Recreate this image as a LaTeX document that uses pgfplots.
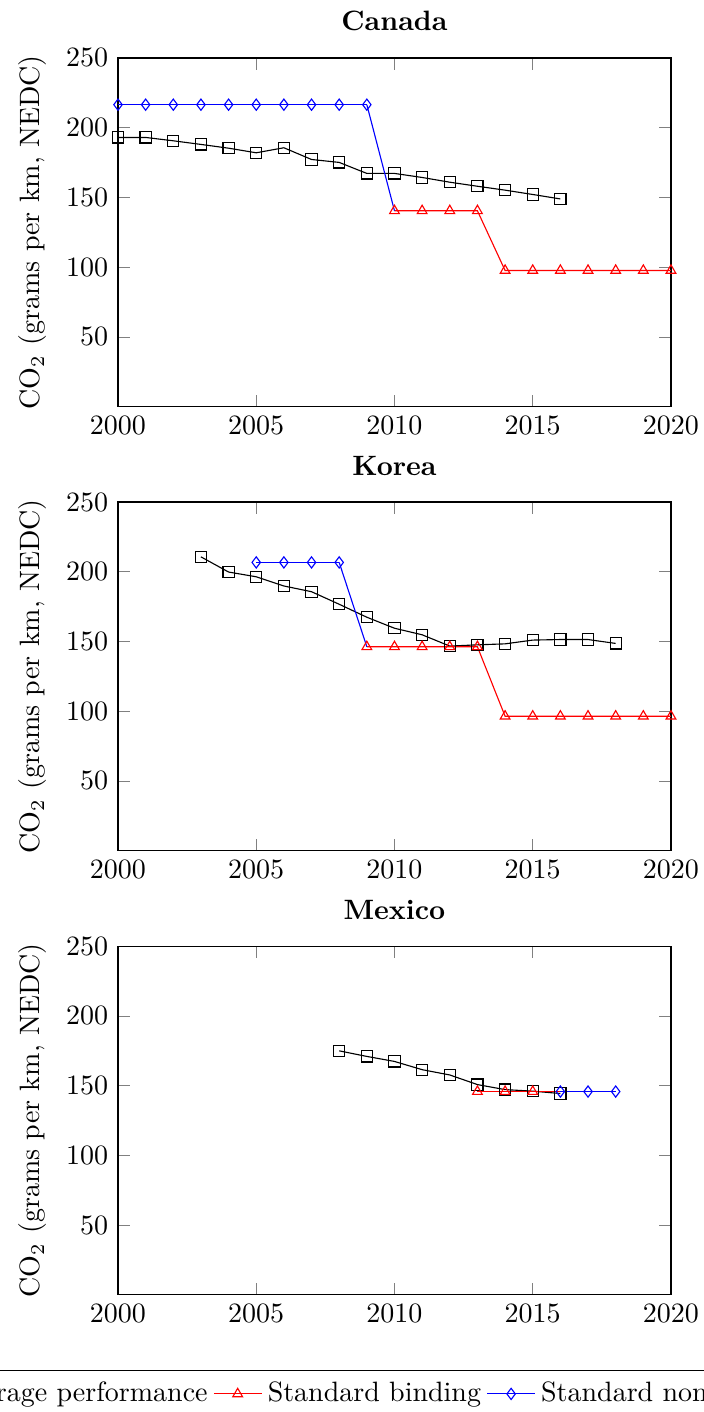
\documentclass[border=0pt]{standalone}
\usepackage{pgfplots}
\pgfplotsset{compat=1.18}
\begin{document}
\begin{tikzpicture}
\pgfplotsset{co2/.style={
  scale only axis, width=197.5pt, height=124.5pt,
  xmin=2000, xmax=2020, ymin=0, ymax=250,
  xtick={2000,2005,2010,2015,2020}, ytick={50,100,150,200,250},
  /pgf/number format/1000 sep={},
  ylabel={CO$_2$ (grams per km, NEDC)},
  title style={font=\bfseries},
  anchor=north west,
}}
\begin{axis}[co2, at={(42.14pt,-20.7pt)}, title={Canada}]
\addplot[black, mark=square] coordinates {
(2000,193.0)(2001,193.0)(2002,190.6)(2003,188.0)(2004,185.3)(2005,182.0)(2006,185.6)(2007,177.2)(2008,175.1)(2009,167.2)(2010,167.2)(2011,164.3)(2012,160.9)(2013,158.0)(2014,155.2)(2015,152.1)(2016,148.9)};
\addplot[red, mark=triangle] coordinates {
(2010,140.4)(2011,140.4)(2012,140.4)(2013,140.4)(2014,97.6)(2015,97.6)(2016,97.6)(2017,97.6)(2018,97.6)(2019,97.6)(2020,97.6)};
\addplot[blue, mark=diamond] coordinates {
(2000,216.5)(2001,216.5)(2002,216.5)(2003,216.5)(2004,216.5)(2005,216.5)(2006,216.5)(2007,216.5)(2008,216.5)(2009,216.5)};
\addplot[blue, no marks, forget plot] coordinates {(2009,216.5)(2010,140.4)};
\end{axis}
\begin{axis}[co2, at={(42.14pt,-179.3pt)}, title={Korea}]
\addplot[black, mark=square] coordinates {
(2003,210.7)(2004,199.8)(2005,196.4)(2006,189.8)(2007,185.7)(2008,176.7)(2009,167.4)(2010,159.5)(2011,154.8)(2012,146.7)(2013,147.6)(2014,148.3)(2015,151.0)(2016,151.4)(2017,151.4)(2018,148.6)};
\addplot[red, mark=triangle] coordinates {
(2009,146.2)(2010,146.2)(2011,146.2)(2012,146.2)(2013,146.2)(2014,96.4)(2015,96.4)(2016,96.4)(2017,96.4)(2018,96.4)(2019,96.4)(2020,96.4)};
\addplot[blue, mark=diamond] coordinates {
(2005,206.7)(2006,206.7)(2007,206.7)(2008,206.7)};
\addplot[blue, no marks, forget plot] coordinates {(2008,206.7)(2009,146.2)};
\end{axis}
\begin{axis}[co2, at={(42.14pt,-337.9pt)}, title={Mexico},
  legend style={at={(0.43,-0.216)}, anchor=north, legend columns=-1}]
\addplot[black, mark=square] coordinates {
(2008,174.9)(2009,170.9)(2010,167.3)(2011,161.4)(2012,157.6)(2013,150.7)(2014,147.1)(2015,146.0)(2016,144.3)};
\addplot[red, mark=triangle] coordinates {
(2013,145.7)(2014,145.7)(2015,145.7)};
\addplot[red, no marks, forget plot] coordinates {(2015,145.7)(2016,145.7)};
\addplot[blue, mark=diamond] coordinates {
(2016,145.7)(2017,145.7)(2018,145.7)};
\legend{Average performance, Standard binding, Standard non-binding}
\end{axis}
\pgfresetboundingbox
\useasboundingbox (0,0) rectangle (251.43pt,-504.29pt);
\end{tikzpicture}
\end{document}
